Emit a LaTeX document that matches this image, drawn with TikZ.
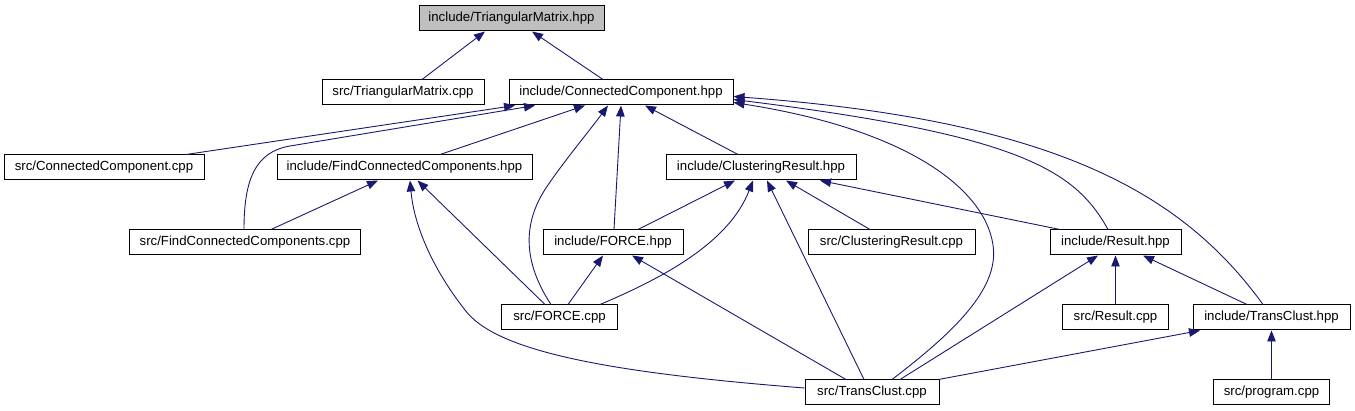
\documentclass[tikz,border=0pt]{standalone}
\usepackage{fontspec}
\setmainfont{Liberation Sans}
\usetikzlibrary{arrows.meta}
\definecolor{edgeblue}{HTML}{191970}
\definecolor{boxgray}{HTML}{BFBFBF}
\begin{document}
\begin{tikzpicture}[x=1pt,y=-1pt,
  box/.style={draw=black, line width=1pt, fill=white, minimum height=25pt, inner sep=0pt, font=\fontsize{13.2}{15}\selectfont, anchor=center},
  dep/.style={draw=edgeblue, line width=0.9pt, -{Triangle[length=11pt,width=8.5pt]}}]
\useasboundingbox (0,0) rectangle (1355,411);
% nodes
\node[box, fill=boxgray, minimum width=185pt] (tmh) at (511.5,18.5) {include/TriangularMatrix.hpp};
\node[box, minimum width=162pt] (tmc) at (403,92.5) {src/TriangularMatrix.cpp};
\node[box, minimum width=224pt] (cch) at (621,92.5) {include/ConnectedComponent.hpp};
\node[box, minimum width=200pt] (ccc) at (104,167.5) {src/ConnectedComponent.cpp};
\node[box, minimum width=255pt] (fch) at (404.5,167.5) {include/FindConnectedComponents.hpp};
\node[box, minimum width=190pt] (crh) at (761,167.5) {include/ClusteringResult.hpp};
\node[box, minimum width=231pt] (fcc) at (245,242.5) {src/FindConnectedComponents.cpp};
\node[box, minimum width=140pt] (foh) at (613,242.5) {include/FORCE.hpp};
\node[box, minimum width=167pt] (crc) at (891.5,242.5) {src/ClusteringResult.cpp};
\node[box, minimum width=131pt] (reh) at (1115.5,242.5) {include/Result.hpp};
\node[box, minimum width=116pt] (foc) at (559.5,317.5) {src/FORCE.cpp};
\node[box, minimum width=106pt] (rec) at (1115.5,317.5) {src/Result.cpp};
\node[box, minimum width=157pt] (tch) at (1271.5,317.5) {include/TransClust.hpp};
\node[box, minimum width=134pt] (tcc) at (872,392.5) {src/TransClust.cpp};
\node[box, minimum width=116pt] (prc) at (1271.5,392.5) {src/program.cpp};
% edges into TriangularMatrix.hpp
\draw[dep] ([xshift=19pt]tmc.north) -- ([xshift=-26.5pt]tmh.south);
\draw[dep] ([xshift=-18pt]cch.north) -- ([xshift=20.5pt]tmh.south);
% edges into ConnectedComponent.hpp
\draw[dep] ([xshift=82pt]ccc.north) -- ([xshift=-106pt]cch.south);
\draw[dep] ([xshift=-1pt]fcc.north) .. controls (244,180) and (255,152) .. (290,146) -- ([xshift=-86pt]cch.south);
\draw[dep] ([xshift=35.5pt]fch.north) -- ([xshift=-36pt]cch.south);
\draw[dep] ([xshift=-8.5pt]foc.north) .. controls (525,265) and (520,225) .. (548,185) .. controls (565,160) and (590,130) .. ([xshift=-13pt]cch.south);
\draw[dep] ([xshift=1pt]foh.north) -- (cch.south);
\draw[dep] ([xshift=-23pt]crh.north) -- ([xshift=24pt]cch.south);
\draw[dep] ([xshift=-8.5pt]tch.north) .. controls (1180,190) and (1050,120) .. ([yshift=-4pt]cch.east);
\draw[dep] ([xshift=-7.5pt]reh.north) .. controls (1075,170) and (1020,135) .. ([yshift=-7pt]cch.east);
\draw[dep] ([xshift=20pt]tcc.north) .. controls (950,335) and (1000,290) .. (993,245) .. controls (985,190) and (910,130) .. ([yshift=-10pt]cch.east);
% edges into ClusteringResult.hpp
\draw[dep] ([xshift=-21.5pt]crc.north) -- ([xshift=25pt]crh.south);
\draw[dep] ([xshift=-55.5pt]reh.north) -- ([xshift=59pt]crh.south);
\draw[dep] ([xshift=25pt]foh.north) -- ([xshift=-26pt]crh.south);
\draw[dep] ([xshift=40.5pt]foc.north) .. controls (670,275) and (730,240) .. ([xshift=-8pt]crh.south);
\draw[dep] ([xshift=-8pt]tcc.north) -- ([xshift=6pt]crh.south);
% edges into FindConnectedComponents.hpp
\draw[dep] ([xshift=26pt]fcc.north) -- ([xshift=-26.5pt]fch.south);
\draw[dep] ([xshift=-14.5pt]foc.north) -- ([xshift=13pt]fch.south);
\draw[dep] ([yshift=4.5pt]tcc.west) .. controls (600,372) and (495,350) .. (465,310) .. controls (432,268) and (414,225) .. ([xshift=5.5pt]fch.south);
% edges into FORCE.hpp
\draw[dep] ([xshift=8.5pt]foc.north) -- ([xshift=-10pt]foh.south);
\draw[dep] ([xshift=-26pt]tcc.north) -- ([xshift=19pt]foh.south);
% edges into Result.hpp
\draw[dep] (rec.north) -- (reh.south);
\draw[dep] ([xshift=28pt]tcc.north) -- ([xshift=-17.5pt]reh.south);
\draw[dep] ([xshift=-24.5pt]tch.north) -- ([xshift=27.5pt]reh.south);
% edges into TransClust.hpp
\draw[dep] ([xshift=-1pt]tcc.north east) -- ([xshift=-71.5pt]tch.south);
\draw[dep] (prc.north) -- (tch.south);
\end{tikzpicture}
\end{document}
